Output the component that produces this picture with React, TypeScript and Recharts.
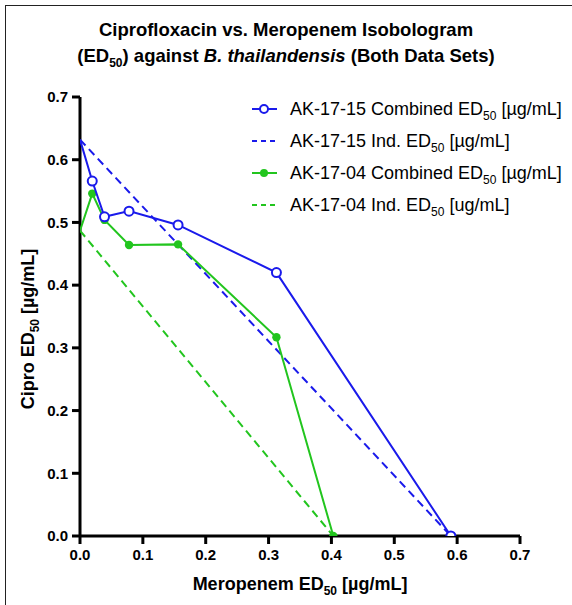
import React from 'react';
import { ScatterChart, Scatter, XAxis, YAxis } from 'recharts';

// Meropenem ED50 (x) and Cipro ED50 (y), ug/mL
const ak15CombinedMero = [0, 0.0195, 0.039, 0.078, 0.156, 0.3125, 0.59];
const ak15CombinedCipro = [0.632, 0.566, 0.509, 0.518, 0.496, 0.42, 0];
const ak15IndMero = [0, 0.59];
const ak15IndCipro = [0.632, 0];

const ak04CombinedMero = [0, 0.0195, 0.039, 0.078, 0.156, 0.3125, 0.403];
const ak04CombinedCipro = [0.487, 0.546, 0.504, 0.464, 0.465, 0.317, 0];
const ak04IndMero = [0, 0.403];
const ak04IndCipro = [0.487, 0];

const axisTicks = [0, 0.1, 0.2, 0.3, 0.4, 0.5, 0.6, 0.7];

const toPoints = (xs: number[], ys: number[]) => xs.map((x, i) => ({ x, y: ys[i] }));

const ak15Combined = toPoints(ak15CombinedMero, ak15CombinedCipro);
const ak15Ind = toPoints(ak15IndMero, ak15IndCipro);
const ak04Combined = toPoints(ak04CombinedMero, ak04CombinedCipro);
const ak04Ind = toPoints(ak04IndMero, ak04IndCipro);

const BLUE = '#1a1aeb';
const GREEN = '#22c51e';
const FONT = '"Liberation Sans", Arial, sans-serif';

const legendItems = [
  { name: 'AK-17-15 Combined ED', unit: ' [\u00b5g/mL]', color: BLUE, dashed: false, marker: 'open' },
  { name: 'AK-17-15 Ind. ED', unit: ' [\u00b5g/mL]', color: BLUE, dashed: true, marker: 'none' },
  { name: 'AK-17-04 Combined ED', unit: ' [\u00b5g/mL]', color: GREEN, dashed: false, marker: 'filled' },
  { name: 'AK-17-04 Ind. ED', unit: ' [ug/mL]', color: GREEN, dashed: true, marker: 'none' },
];

const openDot = (props: any) => {
  const { cx, cy, payload } = props;
  if (payload.x === 0) return <g />;
  return <circle cx={cx} cy={cy} r={4.5} fill="#fff" stroke={BLUE} strokeWidth={2} />;
};

const filledDot = (props: any) => {
  const { cx, cy, payload } = props;
  if (payload.x === 0) return <g />;
  return <circle cx={cx} cy={cy} r={4.2} fill={GREEN} />;
};

const noDot = () => <g />;

const renderYLabel = () => (
  <text
    x={0}
    y={0}
    transform="translate(34, 329) rotate(-90)"
    textAnchor="middle"
    fontFamily={FONT}
    fontWeight="bold"
    fontSize={18}
    fill="#000"
  >
    Cipro ED
    <tspan fontSize={12} dy={5}>50</tspan>
    <tspan dy={-5}> [µg/mL]</tspan>
  </text>
);

const renderXLabel = () => (
  <text x={300} y={590} textAnchor="middle" fontFamily={FONT} fontWeight="bold" fontSize={18} fill="#000">
    Meropenem ED
    <tspan fontSize={12} dy={5}>50</tspan>
    <tspan dy={-5}> [µg/mL]</tspan>
  </text>
);

const tickStyle = { fontFamily: FONT, fontWeight: 'bold', fontSize: 15, fill: '#000' };

export default function App() {
  return (
    <div style={{ position: 'absolute', left: 0, top: 0, width: 572, height: 605, background: '#fff', overflow: 'hidden' }}>
      {/* frame */}
      <div
        style={{
          position: 'absolute',
          left: 5,
          top: 5,
          width: 600,
          height: 640,
          borderTop: '1.5px solid #222',
          borderLeft: '1.5px solid #222',
        }}
      />
      {/* title */}
      <div
        style={{
          position: 'absolute',
          left: 0,
          top: 17,
          width: 572,
          textAlign: 'center',
          fontFamily: FONT,
          fontWeight: 'bold',
          fontSize: 18.5,
          lineHeight: '26px',
          color: '#000',
        }}
      >
        Ciprofloxacin vs. Meropenem Isobologram
        <br />
        (ED<sub style={{ fontSize: 12, lineHeight: 0 }}>50</sub>) against <i>B. thailandensis</i> (Both Data Sets)
      </div>
      <ScatterChart
        width={572}
        height={605}
        margin={{ top: 97, right: 52, bottom: 9, left: 20 }}
        style={{ position: 'absolute', left: 0, top: 0 }}
      >
        <XAxis
          type="number"
          dataKey="x"
          domain={[0, 0.7]}
          ticks={axisTicks}
          tickFormatter={(v: number) => v.toFixed(1)}
          allowDataOverflow
          height={60}
          axisLine={{ stroke: '#000', strokeWidth: 3 }}
          tickLine={{ stroke: '#000', strokeWidth: 3 }}
          tickSize={8}
          tickMargin={5}
          tick={tickStyle}
          interval={0}
          label={{ content: renderXLabel }}
        />
        <YAxis
          type="number"
          dataKey="y"
          domain={[0, 0.7]}
          ticks={axisTicks}
          tickFormatter={(v: number) => v.toFixed(1)}
          allowDataOverflow
          width={60}
          axisLine={{ stroke: '#000', strokeWidth: 3 }}
          tickLine={{ stroke: '#000', strokeWidth: 3 }}
          tickSize={8}
          tickMargin={4}
          tick={tickStyle}
          interval={0}
          label={{ content: renderYLabel }}
        />
        <Scatter
          data={ak04Ind}
          line={{ stroke: GREEN, strokeWidth: 2, strokeDasharray: '8 5' }}
          lineType="joint"
          shape={noDot}
          isAnimationActive={false}
        />
        <Scatter
          data={ak15Ind}
          line={{ stroke: BLUE, strokeWidth: 2, strokeDasharray: '8 5' }}
          lineType="joint"
          shape={noDot}
          isAnimationActive={false}
        />
        <Scatter
          data={ak04Combined}
          line={{ stroke: GREEN, strokeWidth: 2 }}
          lineType="joint"
          shape={filledDot}
          isAnimationActive={false}
        />
        <Scatter
          data={ak15Combined}
          line={{ stroke: BLUE, strokeWidth: 2 }}
          lineType="joint"
          shape={openDot}
          isAnimationActive={false}
        />
      </ScatterChart>
      {/* legend */}
      <div style={{ position: 'absolute', left: 249, top: 93, fontFamily: FONT, fontSize: 18, color: '#000' }}>
        {legendItems.map((item) => (
          <div key={item.name + item.unit + item.color} style={{ display: 'flex', alignItems: 'center', height: 32 }}>
            <svg width={32} height={14} style={{ marginRight: 9 }}>
              <line
                x1={3}
                y1={7}
                x2={28}
                y2={7}
                stroke={item.color}
                strokeWidth={2}
                strokeDasharray={item.dashed ? '5 4' : undefined}
              />
              {item.marker === 'open' && <circle cx={15} cy={7} r={4} fill="#fff" stroke={item.color} strokeWidth={2} />}
              {item.marker === 'filled' && <circle cx={15} cy={7} r={4} fill={item.color} />}
            </svg>
            <span style={{ whiteSpace: 'nowrap' }}>
              {item.name}
              <sub style={{ fontSize: 12, lineHeight: 0 }}>50</sub>
              {item.unit}
            </span>
          </div>
        ))}
      </div>
    </div>
  );
}
